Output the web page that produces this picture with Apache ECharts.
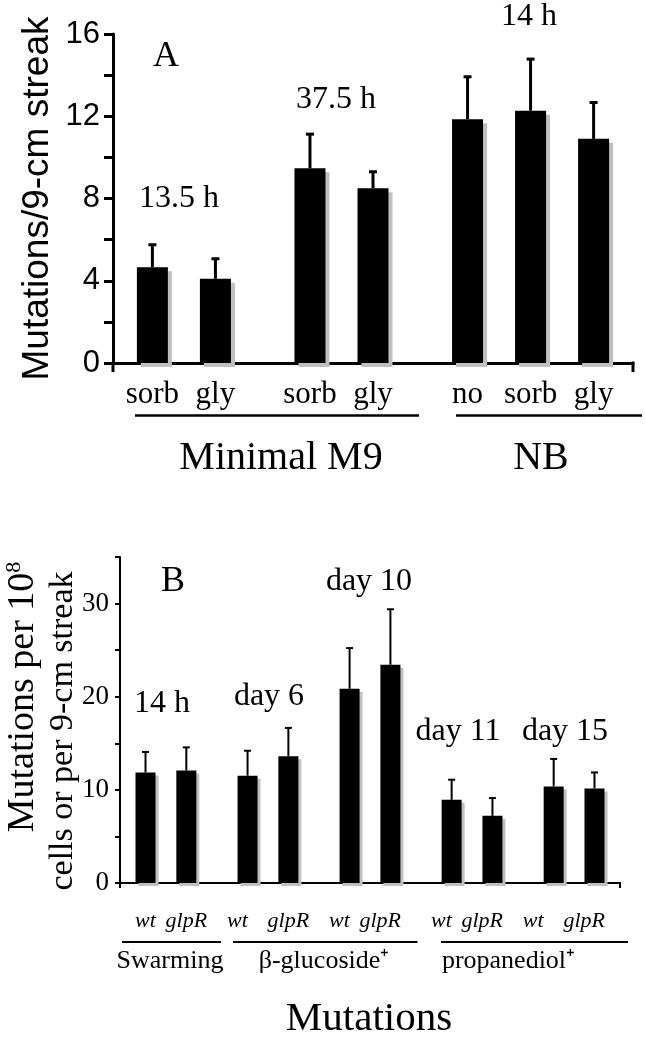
<!DOCTYPE html>
<html><head><meta charset="utf-8">
<script src="https://cdn.jsdelivr.net/npm/echarts@6/dist/echarts.min.js"></script>
<style>html,body{margin:0;padding:0;background:#fff}#c{width:645px;height:1050px}</style>
</head><body><div id="c"></div>
<script>
// ---------- Panel A data ----------
const catsA = ['sorb', 'gly', 'sorb', 'gly', 'no', 'sorb', 'gly'];
const valsA = [4.66, 4.1, 9.47, 8.5, 11.86, 12.27, 10.9];
const errA = [1.09, 0.97, 1.66, 0.8, 2.06, 2.51, 1.77];
const timesA = ['13.5 h', '37.5 h', '14 h'];
const groupsA = ['Minimal M9', 'NB'];
const ticksA = ['0', '4', '8', '12', '16'];

// ---------- Panel B data ----------
const catsB = ['wt', 'glpR', 'wt', 'glpR', 'wt', 'glpR', 'wt', 'glpR', 'wt', 'glpR'];
const valsB = [11.87, 12.08, 11.52, 13.6, 20.85, 23.43, 8.93, 7.21, 10.37, 10.15];
const errB = [2.2, 2.48, 2.68, 3.05, 4.37, 5.96, 2.16, 1.91, 2.95, 1.72];
const timesB = ['14 h', 'day 6', 'day 10', 'day 11', 'day 15'];
const groupsB = ['Swarming', 'β-glucoside⁺', 'propanediol⁺'];
const ticksB = ['0', '10', '20', '30'];
const titleB = 'Mutations';

// ---------- layout (category slots on a fine grid) ----------
const nA = 33, slotsA = [2, 6, 12, 16, 22, 26, 30];
const nB = 49, slotsB = [2, 6, 12, 16, 22, 26, 32, 36, 42, 46];
const labelSlotsB = [2, 6, 11, 16, 21, 25, 31, 35, 40, 45];

function fill(n, slots, vals, blank) {
  const a = new Array(n).fill(blank);
  slots.forEach((s, i) => { a[s] = vals[i]; });
  return a;
}
const axisA = fill(nA, slotsA, catsA, '');
const axisB = fill(nB, labelSlotsB, catsB, '');
const barA = fill(nA, slotsA, valsA, '-');
const barB = fill(nB, slotsB, valsB, '-');
const eA = slotsA.map((s, i) => [s, valsA[i], valsA[i] + errA[i]]);
const eB = slotsB.map((s, i) => [s, valsB[i], valsB[i] + errB[i]]);

const SANS = 'Liberation Sans', SERIF = 'Liberation Serif';

function errRender(capHalf, lw) {
  return function (params, api) {
    const x = api.value(0);
    const p0 = api.coord([x, api.value(1)]);
    const p1 = api.coord([x, api.value(2)]);
    return {
      type: 'group', children: [
        { type: 'line', shape: { x1: p0[0], y1: p0[1], x2: p1[0], y2: p1[1] }, style: { stroke: '#000', lineWidth: lw } },
        { type: 'line', shape: { x1: p1[0] - capHalf, y1: p1[1], x2: p1[0] + capHalf, y2: p1[1] }, style: { stroke: '#000', lineWidth: lw } }
      ]
    };
  };
}

function txt(t, x, y, size, fam, extra) {
  return {
    type: 'text', z: 100, style: Object.assign({
      text: t, x: x, y: y, fill: '#000',
      font: size + 'px "' + fam + '"',
      textAlign: 'center', textVerticalAlign: 'middle', align: 'center', verticalAlign: 'middle'
    }, extra || {})
  };
}
function ln(x1, y1, x2, y2, w) {
  return { type: 'line', z: 100, shape: { x1, y1, x2, y2 }, style: { stroke: '#000', lineWidth: w } };
}

const graphics = [
  txt('A', 166, 57, 36, SERIF),
  txt(timesA[0], 179, 199, 32, SERIF),
  txt(timesA[1], 336, 100, 32, SERIF),
  txt(timesA[2], 529, 17, 32, SERIF),
  ln(135, 415.5, 419, 415.5, 2.5),
  ln(456, 415.5, 642, 415.5, 2.5),
  txt(groupsA[0], 281, 458, 40, SERIF),
  txt(groupsA[1], 541, 458, 40, SERIF),
  ln(113, 363, 113, 372, 3),
  ln(633, 361.5, 633, 372, 3),

  txt('B', 173, 582, 36, SERIF),
  txt(timesB[0], 162, 704, 32, SERIF),
  txt(timesB[1], 269, 697, 32, SERIF),
  txt(timesB[2], 369, 582, 32, SERIF),
  txt(timesB[3], 458, 732, 32, SERIF),
  txt(timesB[4], 565, 732, 32, SERIF),
  ln(122, 942, 221, 942, 2),
  ln(233, 942, 417.5, 942, 2),
  ln(441, 942, 628, 942, 2),
  txt(groupsB[0], 170, 961.5, 26, SERIF),
  txt(groupsB[1], 324, 961.5, 26, SERIF),
  txt(groupsB[2], 508.5, 961.5, 26, SERIF),
  txt(titleB, 369, 1019, 41, SERIF),
  ln(120, 883, 120, 888, 2),
  ln(620, 882, 620, 888, 2)
];

const chart = echarts.init(document.getElementById('c'), null, { renderer: 'canvas' });
chart.setOption({
  animation: false,
  backgroundColor: '#fff',
  grid: [
    { left: 113, top: 34, width: 520, height: 329, containLabel: false, outerBoundsMode: 'none' },
    { left: 120, top: 557, width: 500, height: 326, containLabel: false, outerBoundsMode: 'none' }
  ],
  xAxis: [
    {
      gridIndex: 0, type: 'category', data: axisA,
      axisLine: { show: true, lineStyle: { color: '#000', width: 3 } },
      axisTick: { show: false }, splitLine: { show: false },
      axisLabel: { interval: 0, fontFamily: SERIF, fontSize: 31, color: '#000', margin: 16 }
    },
    {
      gridIndex: 1, type: 'category', data: axisB,
      axisLine: { show: true, lineStyle: { color: '#000', width: 2 } },
      axisTick: { show: false }, splitLine: { show: false },
      axisLabel: { interval: 0, fontFamily: SERIF, fontStyle: 'italic', fontSize: 22, color: '#000', margin: 27 }
    }
  ],
  yAxis: [
    {
      gridIndex: 0, type: 'value', min: 0, max: 16, interval: 2,
      axisLine: { show: true, lineStyle: { color: '#000', width: 3 } },
      axisTick: { show: true, inside: false, length: 9, lineStyle: { color: '#000', width: 3 } },
      splitLine: { show: false },
      axisLabel: {
        formatter: v => ticksA.includes(String(v)) ? String(v) : '',
        fontFamily: SANS, fontSize: 31, color: '#000', margin: 13
      },
      name: 'Mutations/9-cm streak', nameLocation: 'middle', nameGap: 57, nameMoveOverlap: false,
      nameTextStyle: { fontFamily: SANS, fontSize: 37, color: '#000' }
    },
    {
      gridIndex: 1, type: 'value', min: 0, max: 35, interval: 5,
      axisLine: { show: true, lineStyle: { color: '#000', width: 2 } },
      axisTick: { show: true, inside: false, length: 5, lineStyle: { color: '#000', width: 2 } },
      splitLine: { show: false },
      axisLabel: {
        formatter: v => ticksB.includes(String(v)) ? String(v) : '',
        fontFamily: SERIF, fontSize: 27, color: '#000', margin: 11
      },
      name: '{p| }{a|Mutations per 10}{s|8}\n{b|cells or per 9-cm streak}{q| }',
      nameLocation: 'middle', nameGap: 37, nameMoveOverlap: false,
      nameTextStyle: {
        color: '#000', fontFamily: SERIF,
        rich: {
          p: { fontFamily: SERIF, fontSize: 38, lineHeight: 40, width: 46 },
          q: { fontFamily: SERIF, fontSize: 34, lineHeight: 40, width: 22 },
          a: { fontFamily: SERIF, fontSize: 38, lineHeight: 40, color: '#000' },
          s: { fontFamily: SERIF, fontSize: 22, lineHeight: 40, verticalAlign: 'top', color: '#000' },
          b: { fontFamily: SERIF, fontSize: 34, lineHeight: 40, color: '#000' }
        }
      }
    }
  ],
  series: [
    {
      type: 'bar', xAxisIndex: 0, yAxisIndex: 0, data: barA, barWidth: 31,
      itemStyle: { color: '#000', shadowColor: '#c0c0c0', shadowBlur: 0, shadowOffsetX: 4, shadowOffsetY: 4 },
      z: 2
    },
    {
      type: 'custom', xAxisIndex: 0, yAxisIndex: 0, data: eA,
      renderItem: errRender(4, 3), encode: { x: 0, y: [1, 2] }, z: 3
    },
    {
      type: 'bar', xAxisIndex: 1, yAxisIndex: 1, data: barB, barWidth: 20,
      itemStyle: { color: '#000', shadowColor: '#c0c0c0', shadowBlur: 0, shadowOffsetX: 3, shadowOffsetY: 3 },
      z: 2
    },
    {
      type: 'custom', xAxisIndex: 1, yAxisIndex: 1, data: eB,
      renderItem: errRender(3.5, 2), encode: { x: 0, y: [1, 2] }, z: 3
    }
  ],
  graphic: graphics
});
</script>
</body></html>
